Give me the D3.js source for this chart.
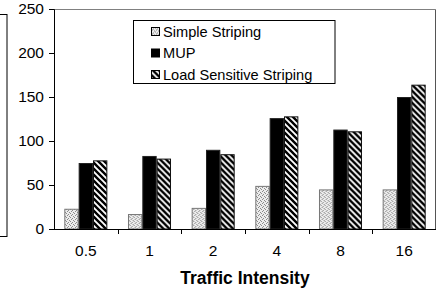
<!DOCTYPE html>
<html>
<head>
<meta charset="utf-8">
<script src="https://cdn.jsdelivr.net/npm/d3@7/dist/d3.min.js"></script>
<style>
  body { margin: 0; background: #fff; }
  svg { display: block; font-family: "Liberation Sans", Arial, sans-serif; }
</style>
</head>
<body>
<div class="chart-container"></div>
<script>
(function() {
  //// Data
  const categories = ["0.5", "1", "2", "4", "8", "16"];
  const seriesNames = ["Simple Striping", "MUP", "Load Sensitive Striping"];
  const simpleStriping = [23, 17, 24, 49, 45, 45];
  const mup = [75, 83, 90, 126, 113, 150];
  const loadSensitive = [78, 80, 85, 128, 111, 164];
  const yTicks = [0, 50, 100, 150, 200, 250];

  const seriesValues = [simpleStriping, mup, loadSensitive];

  //// Chart
  const chartWidth = 437;
  const chartHeight = 290;
  const margin = { top: 9, right: 1, bottom: 61, left: 54 };
  const width = chartWidth - margin.left - margin.right;
  const height = chartHeight - margin.top - margin.bottom;

  const xScale = d3.scaleBand().domain(categories).range([0, width]);
  const xInner = d3
    .scaleBand()
    .domain(d3.range(seriesNames.length))
    .range([0, xScale.bandwidth()])
    .paddingInner(0)
    .paddingOuter(0.72);
  const yScale = d3.scaleLinear().domain([0, 250]).range([height, 0]);

  const svg = d3
    .select(".chart-container")
    .append("svg")
    .attr("width", chartWidth)
    .attr("height", chartHeight)
    .attr("viewBox", [0, 0, chartWidth, chartHeight]);

  // patterns
  const defs = svg.append("defs");
  const dots = defs
    .append("pattern")
    .attr("id", "dots")
    .attr("patternUnits", "userSpaceOnUse")
    .attr("width", 4)
    .attr("height", 4);
  dots.append("rect").attr("width", 4).attr("height", 4).attr("fill", "#ececec");
  [[0, 0], [2, 1], [1, 2], [3, 3]].forEach(p =>
    dots
      .append("rect")
      .attr("x", p[0])
      .attr("y", p[1])
      .attr("width", 1)
      .attr("height", 1)
      .attr("fill", "#8a8a8a")
  );
  const hatch = defs
    .append("pattern")
    .attr("id", "hatch")
    .attr("patternUnits", "userSpaceOnUse")
    .attr("width", 6)
    .attr("height", 6);
  hatch.append("rect").attr("width", 6).attr("height", 6).attr("fill", "#fff");
  hatch
    .append("path")
    .attr("d", "M-1,-1 L7,7 M-1,5 L1,7 M5,-1 L7,1")
    .attr("stroke", "#000")
    .attr("stroke-width", 2.4);

  const fills = ["url(#dots)", "#000", "url(#hatch)"];
  const strokes = ["#777", "#222", "#111"];

  // neighbouring figure edge on the left
  svg
    .append("rect")
    .attr("x", -10)
    .attr("y", 14.5)
    .attr("width", 17)
    .attr("height", 222)
    .attr("fill", "none")
    .attr("stroke", "#000");

  const g = svg
    .append("g")
    .attr("transform", `translate(${margin.left},${margin.top})`);

  // frame top & right
  g.append("line")
    .attr("x1", 0)
    .attr("x2", width - 0.5)
    .attr("y1", 0.5)
    .attr("y2", 0.5)
    .attr("stroke", "#808080");
  g.append("line")
    .attr("x1", width - 0.5)
    .attr("x2", width - 0.5)
    .attr("y1", 0.5)
    .attr("y2", height)
    .attr("stroke", "#555");

  // bars
  g.append("g")
    .selectAll("g")
    .data(categories)
    .join("g")
    .attr("transform", d => `translate(${xScale(d)},0)`)
    .selectAll("rect")
    .data((d, i) => seriesValues.map((s, j) => ({ s: j, v: s[i] })))
    .join("rect")
    .attr("x", d => xInner(d.s) + 0.5)
    .attr("y", d => yScale(d.v) + 0.5)
    .attr("width", xInner.bandwidth() - 1)
    .attr("height", d => height - yScale(d.v) - 0.5)
    .attr("fill", d => fills[d.s])
    .attr("stroke", d => strokes[d.s])
    .attr("stroke-width", 1);

  // y axis
  g.append("g")
    .call(
      d3
        .axisLeft(yScale)
        .tickValues(yTicks)
        .tickSize(5)
        .tickPadding(5)
    )
    .call(g => g.select(".domain").attr("d", `M-5,0.5H0.5V${height}`))
    .call(g =>
      g
        .selectAll(".tick text")
        .attr("font-size", 15.5)
        .attr("font-family", null)
        .attr("fill", "#000")
    )
    .call(g => g.selectAll(".tick line").attr("stroke", "#000"));

  // x axis
  g.append("g")
    .attr("transform", `translate(0,${height})`)
    .call(
      d3
        .axisBottom(xScale)
        .tickSize(0)
        .tickPadding(16)
    )
    .call(g => g.select(".domain").attr("d", `M0,0.5H${width}`))
    .call(g =>
      g
        .selectAll(".tick text")
        .attr("font-size", 15.5)
        .attr("font-family", null)
        .attr("fill", "#000")
    )
    .call(g =>
      g
        .selectAll(".sep")
        .data(categories.slice(1))
        .join("line")
        .attr("class", "sep")
        .attr("stroke", "#000")
        .attr("x1", d => Math.round(xScale(d)) + 0.5)
        .attr("x2", d => Math.round(xScale(d)) + 0.5)
        .attr("y1", 0)
        .attr("y2", 5)
    );

  // axis title
  g.append("text")
    .attr("x", width / 2)
    .attr("y", height + 49)
    .attr("dy", "0.35em")
    .attr("text-anchor", "middle")
    .attr("font-size", 17.5)
    .attr("font-weight", "bold")
    .text("Traffic Intensity");

  // legend
  const legend = svg.append("g").attr("class", "legend");
  legend
    .append("rect")
    .attr("x", 133.5)
    .attr("y", 20.5)
    .attr("width", 201.5)
    .attr("height", 63)
    .attr("fill", "#fff")
    .attr("stroke", "#000");
  const items = legend
    .selectAll(".item")
    .data(seriesNames)
    .join("g")
    .attr("class", "item")
    .attr("transform", (d, i) => `translate(151,${31.5 + i * 21.5})`);
  items
    .append("rect")
    .attr("x", 0.5)
    .attr("y", -4)
    .attr("width", 8)
    .attr("height", 8)
    .attr("fill", (d, i) => fills[i])
    .attr("stroke", "#000");
  items
    .append("text")
    .attr("x", 12)
    .attr("dy", "0.36em")
    .attr("font-size", 14.6)
    .text(d => d);
})();
</script>
</body>
</html>
